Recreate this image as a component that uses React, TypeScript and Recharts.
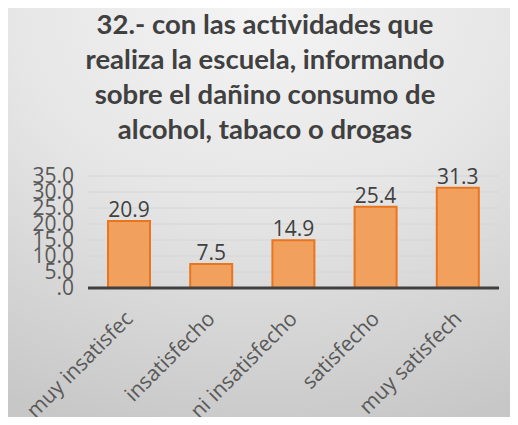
import React from "react";
import {
  BarChart,
  Bar,
  XAxis,
  YAxis,
  CartesianGrid,
  LabelList,
} from "recharts";

const categories = [
  "muy insatisfec",
  "insatisfecho",
  "ni insatisfecho",
  "satisfecho",
  "muy satisfech",
];
const values = [20.9, 7.5, 14.9, 25.4, 31.3];
const yTicks = [0, 5, 10, 15, 20, 25, 30, 35];
const titleLines = [
  "32.- con las actividades que",
  "realiza la escuela, informando",
  "sobre el dañino consumo de",
  "alcohol, tabaco o drogas",
];

const data = categories.map((name, i) => ({ name, value: values[i] }));

const fmt = (v: number) => (v === 0 ? ".0" : v.toFixed(1));

function XTick(props: any) {
  const { x, y, payload } = props;
  return (
    <text
      x={x + 5}
      y={y + 24}
      transform={`rotate(-45, ${x + 5}, ${y + 24})`}
      textAnchor="end"
      fontSize={21}
      fontFamily="'Open Sans', sans-serif"
      fill="#595959"
    >
      {payload.value}
    </text>
  );
}

export default function App() {
  return (
    <div style={{ position: "relative", width: 518, height: 425, margin: -8, overflow: "hidden" }}>
      <div
        style={{
          position: "absolute",
          left: 5,
          top: 6,
          width: 513,
          height: 419,
          borderLeft: "1px solid #cfcfcf",
          borderTop: "1px solid #cfcfcf",
          background:
            "radial-gradient(ellipse 110% 105% at 50% 0%, #f4f4f4 0%, #e6e6e6 45%, #c7c7c7 100%)",
        }}
      />
      <div
        style={{
          position: "absolute",
          left: 5,
          top: 6,
          width: 520,
          textAlign: "center",
          fontFamily: "Lato, sans-serif",
          fontWeight: 700,
          fontSize: 27.5,
          lineHeight: "35px",
          color: "#404040",
        }}
      >
        {titleLines.map((t) => (
          <div key={t}>{t}</div>
        ))}
      </div>
      <div style={{ position: "absolute", left: 0, top: 0 }}>
        <BarChart
          width={518}
          height={425}
          data={data}
          margin={{ top: 176, right: 19, bottom: 0, left: 28 }}
        >
          <CartesianGrid vertical={false} stroke="#d6d6d6" strokeWidth={1} />
          <XAxis
            dataKey="name"
            height={137}
            interval={0}
            tickLine={false}
            axisLine={{ stroke: "#404040", strokeWidth: 3 }}
            tick={<XTick />}
          />
          <YAxis
            width={60}
            domain={[0, 35]}
            ticks={yTicks}
            interval={0}
            tickFormatter={fmt}
            axisLine={false}
            tickLine={false}
            tickMargin={8}
            tick={{ fontSize: 21, fill: "#595959", fontFamily: "'Open Sans', sans-serif" }}
          />
          <Bar
            dataKey="value"
            barSize={42}
            fill="#f2a05e"
            stroke="#e8761e"
            strokeWidth={2}
            isAnimationActive={false}
          >
            <LabelList
              dataKey="value"
              position="top"
              offset={4}
              formatter={(v: any) => Number(v).toFixed(1)}
              style={{ fontSize: 21, fill: "#404040", fontFamily: "'Open Sans', sans-serif" }}
            />
          </Bar>
        </BarChart>
      </div>
    </div>
  );
}
